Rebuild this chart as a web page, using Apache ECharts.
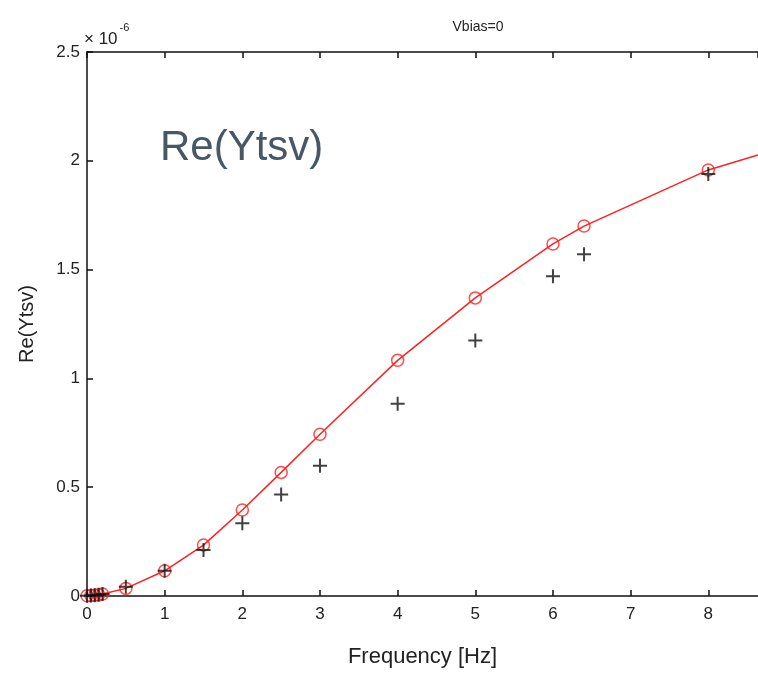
<!DOCTYPE html>
<html>
<head>
<meta charset="utf-8">
<style>html,body{margin:0;padding:0;background:#fff}#c{width:758px;height:673px}</style>
<script src="https://cdn.jsdelivr.net/npm/echarts@6/dist/echarts.min.js"></script>
</head>
<body>
<div id="c"></div>
<script>
// Frequency [Hz] of data points
var freq = [0, 0.05, 0.1, 0.15, 0.2, 0.5, 1, 1.5, 2, 2.5, 3, 4, 5, 6, 6.4, 8];
// Model values (red circles), units of 1e-6
var modelVals = [0.001, 0.002, 0.004, 0.006, 0.009, 0.035, 0.116, 0.234, 0.395, 0.568, 0.743, 1.083, 1.370, 1.618, 1.700, 1.958];
// Measured values (black plus), units of 1e-6
var measVals = [0.001, 0.002, 0.004, 0.006, 0.009, 0.043, 0.116, 0.211, 0.334, 0.467, 0.599, 0.884, 1.174, 1.470, 1.570, 1.939];
// Model curve (red line), continues past the last circle to the clipped right edge
var curveFreq = [0, 0.05, 0.1, 0.15, 0.2, 0.5, 1, 1.5, 2, 2.5, 3, 4, 5, 6, 6.4, 8, 8.64];
var curveVals = [0.001, 0.002, 0.004, 0.006, 0.009, 0.035, 0.116, 0.234, 0.395, 0.568, 0.743, 1.083, 1.370, 1.618, 1.700, 1.958, 2.027];
var yTicks = ['0', '0.5', '1', '1.5', '2', '2.5'];
var xTicks = ['0', '1', '2', '3', '4', '5', '6', '7', '8'];

function pairs(xs, ys) { return xs.map(function (x, i) { return [x, ys[i]]; }); }

var font = 'Liberation Sans';
var tickStyle = { show: true, inside: true, length: 6, lineStyle: { color: '#111', width: 1.5 } };
var chart = echarts.init(document.getElementById('c'), null, { renderer: 'canvas' });
chart.setOption({
  animation: false,
  backgroundColor: '#fff',
  title: {
    text: 'Vbias=0', left: 473, top: 15, textAlign: 'center',
    textStyle: { fontFamily: font, fontSize: 14, fontWeight: 'normal', color: '#222' }
  },
  grid: { left: 87, top: 52, right: 0, bottom: 77, containLabel: false },
  xAxis: [{
    type: 'value', min: 0, max: 8.64, interval: 1, position: 'bottom',
    axisLine: { show: true, onZero: false, lineStyle: { color: '#111', width: 1.5 } },
    axisTick: tickStyle,
    axisLabel: {
      margin: 10, fontFamily: font, fontSize: 17, color: '#222', showMaxLabel: false,
      formatter: function (v) { var i = xTicks.indexOf(String(Math.round(v))); return (Math.abs(v - Math.round(v)) < 1e-6 && i >= 0) ? xTicks[i] : ''; }
    },
    splitLine: { show: false },
    name: 'Frequency [Hz]', nameLocation: 'middle', nameGap: 50,
    nameTextStyle: { fontFamily: font, fontSize: 22, color: '#222' }
  }, {
    type: 'value', position: 'top', min: 0, max: 8.64, interval: 1,
    axisLine: { show: true, onZero: false, lineStyle: { color: '#111', width: 1.5 } },
    axisTick: tickStyle,
    axisLabel: { show: false }, splitLine: { show: false }
  }],
  yAxis: {
    type: 'value', min: 0, max: 2.5, interval: 0.5,
    axisLine: { show: true, onZero: false, lineStyle: { color: '#111', width: 1.5 } },
    axisTick: tickStyle,
    axisLabel: {
      margin: 7, fontFamily: font, fontSize: 17, color: '#222',
      formatter: function (v) { return yTicks[Math.round(v / 0.5)]; }
    },
    splitLine: { show: false },
    name: 'Re(Ytsv)', nameLocation: 'middle', nameGap: 50, nameRotate: 90,
    nameTextStyle: { fontFamily: font, fontSize: 20, color: '#222' }
  },
  graphic: [
    {
      type: 'text', left: 84, top: 22,
      style: {
        text: '{a|× 10}{b|-6}',
        rich: {
          a: { fontFamily: font, fontSize: 17, fill: '#222', padding: [10, 0, 0, 0] },
          b: { fontFamily: font, fontSize: 11, fill: '#222', padding: [0, 0, 14, 2] }
        }
      }
    },
    {
      type: 'text', left: 160, top: 127,
      style: { text: 'Re(Ytsv)', fontFamily: font, fontSize: 42, fill: '#475765' }
    }
  ],
  series: [
    {
      type: 'line', data: pairs(curveFreq, curveVals), showSymbol: false, symbol: 'none',
      lineStyle: { color: '#ff2020', width: 1.5 }, z: 2, clip: true
    },
    {
      type: 'scatter', data: pairs(freq, modelVals), symbol: 'circle', symbolSize: 12,
      itemStyle: { color: 'rgba(0,0,0,0)', borderColor: '#ff2020', borderWidth: 1.5 }, z: 3
    },
    {
      type: 'scatter', data: pairs(freq, measVals),
      symbol: 'path://M6,0 L8,0 L8,6 L14,6 L14,8 L8,8 L8,14 L6,14 L6,8 L0,8 L0,6 L6,6 Z',
      symbolSize: 14, itemStyle: { color: '#111' }, z: 4
    },
    { type: 'scatter', xAxisIndex: 1, data: [], silent: true }
  ]
});
</script>
</body>
</html>
